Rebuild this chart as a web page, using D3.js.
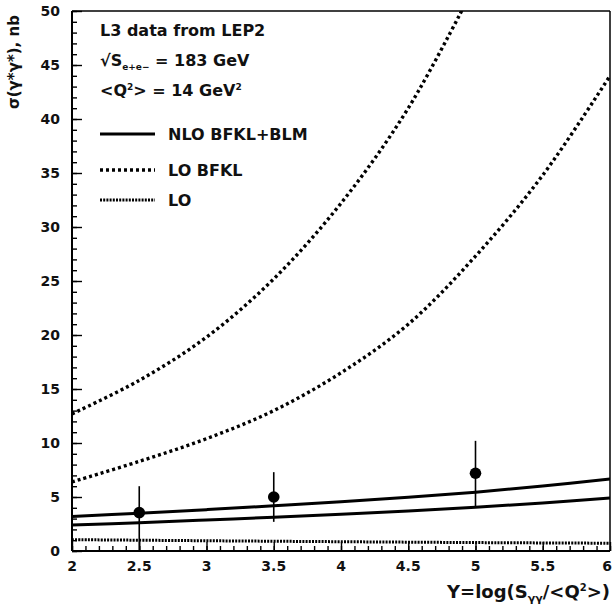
<!DOCTYPE html>
<html><head><meta charset="utf-8">
<script src="https://cdn.jsdelivr.net/npm/d3@7"></script>
<style>
body{margin:0;background:#fff;}
text{font-family:"DejaVu Sans",sans-serif;font-weight:bold;fill:#111;}
</style></head>
<body><svg id="c" width="612" height="608"></svg>
<script>
// ---- data ----
const gridY = [2, 2.5, 3, 3.5, 4, 4.5, 5, 5.5, 6];
const nloUpper = [3.2, 3.5, 3.83, 4.18, 4.55, 4.98, 5.45, 6.02, 6.67];
const nloLower = [2.4, 2.62, 2.87, 3.12, 3.4, 3.7, 4.05, 4.45, 4.9];
const loBfklUpperY = [2, 2.5, 3, 3.5, 4, 4.5, 5];
const loBfklUpper = [12.7, 15.8, 19.8, 25.2, 32.2, 41.0, 52.5];
const loBfklLower = [6.4, 8.3, 10.4, 13.0, 16.5, 21.0, 27.3, 34.8, 44.0];
const loY = [2, 3, 4, 5, 6];
const lo = [1.05, 0.95, 0.86, 0.78, 0.72];
const dataY = [2.5, 3.5, 5];
const dataVal = [3.55, 5.0, 7.2];
const dataHi = [6.0, 7.3, 10.2];
const dataLo = [0, 2.7, 4.0];
const xTicks = [2, 2.5, 3, 3.5, 4, 4.5, 5, 5.5, 6];
const yTicks = [0, 5, 10, 15, 20, 25, 30, 35, 40, 45, 50];

// ---- drawing ----
const svg = d3.select("#c");
const L = 72, R = 610, T = 11, B = 551;
const x = d3.scaleLinear().domain([2, 6]).range([L, R]);
const y = d3.scaleLinear().domain([0, 50]).range([B, T]);

svg.append("clipPath").attr("id", "clip").append("rect")
  .attr("x", L).attr("y", T).attr("width", R - L).attr("height", B - T);

const g = svg.append("g").attr("clip-path", "url(#clip)");
const line = d3.line().x(d => x(d[0])).y(d => y(d[1])).curve(d3.curveCatmullRom.alpha(0.5));

function curve(xs, ys, style) {
  const p = g.append("path").datum(xs.map((v, i) => [v, ys[i]]))
    .attr("d", line).attr("fill", "none").attr("stroke", "#000");
  for (const k in style) p.attr(k, style[k]);
}
const solid = {"stroke-width": 3};
const dashed = {"stroke-width": 3.4, "stroke-dasharray": "3,3"};
const dense = {"stroke-width": 3, "stroke-dasharray": "2,1.2"};
curve(gridY, nloUpper, solid);
curve(gridY, nloLower, solid);
curve(loBfklUpperY, loBfklUpper, dashed);
curve(gridY, loBfklLower, dashed);
curve(loY, lo, dense);

// data points
dataY.forEach((v, i) => {
  g.append("line").attr("x1", x(v)).attr("x2", x(v))
    .attr("y1", y(dataHi[i])).attr("y2", y(dataLo[i]))
    .attr("stroke", "#000").attr("stroke-width", 1.6);
  g.append("circle").attr("cx", x(v)).attr("cy", y(dataVal[i])).attr("r", 5.8).attr("fill", "#000");
});

// frame
svg.append("line").attr("x1", L).attr("x2", R).attr("y1", T).attr("y2", T).attr("stroke", "#000").attr("stroke-width", 1.5);
svg.append("line").attr("x1", R).attr("x2", R).attr("y1", T).attr("y2", B).attr("stroke", "#000").attr("stroke-width", 1.5);

// x axis (ticks inward)
const xAxisMinor = d3.axisTop(x).tickValues(d3.range(20, 61).map(d => d / 10)).tickSize(5).tickFormat("");
const xa1 = svg.append("g").attr("transform", `translate(0,${B})`).call(xAxisMinor);
const xAxisMajor = d3.axisTop(x).tickValues(xTicks).tickSize(9).tickFormat("");
const xa2 = svg.append("g").attr("transform", `translate(0,${B})`).call(xAxisMajor);
[xa1, xa2].forEach(a => { a.select(".domain").remove(); a.selectAll("line").attr("stroke", "#000").attr("stroke-width", 1.4); });
svg.append("line").attr("x1", L).attr("x2", R).attr("y1", B).attr("y2", B).attr("stroke", "#000").attr("stroke-width", 2);
svg.selectAll(".xlab").data(xTicks).enter().append("text")
  .attr("x", d => d === 6 ? 612 : x(d)).attr("y", 571)
  .attr("text-anchor", d => d === 6 ? "end" : "middle")
  .style("font-size", "14px").text(d => d);

// y axis (ticks inward)
const yAxisMinor = d3.axisRight(y).tickValues(d3.range(0, 51)).tickSize(5).tickFormat("");
const ya1 = svg.append("g").attr("transform", `translate(${L},0)`).call(yAxisMinor);
const yAxisMajor = d3.axisRight(y).tickValues(yTicks).tickSize(10).tickFormat("");
const ya2 = svg.append("g").attr("transform", `translate(${L},0)`).call(yAxisMajor);
[ya1, ya2].forEach(a => { a.select(".domain").remove(); a.selectAll("line").attr("stroke", "#000").attr("stroke-width", 1.4); });
svg.append("line").attr("x1", L).attr("x2", L).attr("y1", T).attr("y2", B).attr("stroke", "#000").attr("stroke-width", 2);
svg.selectAll(".ylab").data(yTicks).enter().append("text")
  .attr("x", 60).attr("y", d => y(d) + 5).attr("text-anchor", "end")
  .style("font-size", "14px").text(d => d);

// y title
svg.append("text").attr("transform", "translate(19,62) rotate(-90)")
  .attr("text-anchor", "middle").style("font-size", "15px").text("σ(γ*γ*), nb");

// x title
const xt = svg.append("text").attr("x", 610).attr("y", 598).attr("text-anchor", "end").style("font-size", "18px");
xt.append("tspan").text("Y=log(S");
xt.append("tspan").attr("dy", 4).style("font-size", "11px").text("γγ");
xt.append("tspan").attr("dy", -4).text("/<Q");
xt.append("tspan").attr("dy", -7).style("font-size", "10px").text("2");
xt.append("tspan").attr("dy", 7).text(">)");

// legend / annotations
svg.append("text").attr("x", 100).attr("y", 36).style("font-size", "16px").text("L3 data from LEP2");
const s = svg.append("text").attr("x", 100).attr("y", 66).style("font-size", "16px");
s.append("tspan").text("√S");
s.append("tspan").attr("dy", 4).style("font-size", "9px").text("e+e−");
s.append("tspan").attr("dy", -4).text(" = 183 GeV");
const q = svg.append("text").attr("x", 100).attr("y", 96).style("font-size", "16px");
q.append("tspan").text("<Q");
q.append("tspan").attr("dy", -6).style("font-size", "9px").text("2");
q.append("tspan").attr("dy", 6).text("> = 14 GeV");
q.append("tspan").attr("dy", -6).style("font-size", "9px").text("2");

const legendItems = ["NLO BFKL+BLM", "LO BFKL", "LO"];
const legendStyles = [solid, dashed, dense];
const legendYs = [134, 170, 200];
legendItems.forEach((t, i) => {
  const l = svg.append("line").attr("x1", 100).attr("x2", 155).attr("y1", legendYs[i]).attr("y2", legendYs[i]).attr("stroke", "#000");
  for (const k in legendStyles[i]) l.attr(k, legendStyles[i][k]);
  svg.append("text").attr("x", 168).attr("y", legendYs[i] + 6).style("font-size", "16px").text(t);
});
</script></body></html>
